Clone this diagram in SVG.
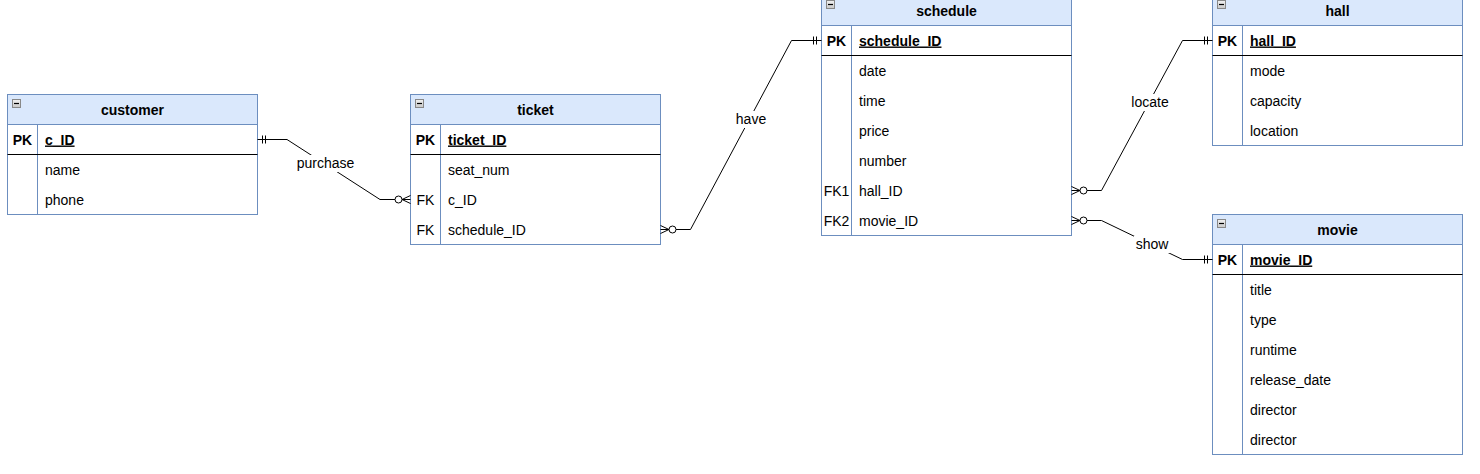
<svg xmlns="http://www.w3.org/2000/svg" width="1480" height="474" viewBox="0 0 1480 474">
<defs>
<linearGradient id="ig" x1="0" y1="0" x2="0" y2="1"><stop offset="0" stop-color="#f2f2f2"/><stop offset="1" stop-color="#c8c8c8"/></linearGradient>
</defs>
<style>
text{font-family:"Liberation Sans",Arial,Helvetica,sans-serif;font-size:14px;fill:#000}
.t{font-weight:bold;text-anchor:middle}
.k{text-anchor:middle}
.kb{text-anchor:middle;font-weight:bold}
.pk{font-weight:bold;text-decoration:underline}
.hd{fill:#dae8fc;stroke:#6c8ebf;stroke-width:1}
.bd{fill:#fff;stroke:#6c8ebf;stroke-width:1}
.cd{stroke:#6c8ebf;stroke-width:1}
.sp{stroke:#000;stroke-width:1}
.ic{fill:url(#ig);stroke:#888;stroke-width:1}
.im{stroke:#000;stroke-width:1.2}
.e{fill:none;stroke:#000;stroke-width:1}
.c{fill:#fff;stroke:#000;stroke-width:1}
.lb{fill:#fff}
.l{text-anchor:middle}
</style>
<rect width="1480" height="474" fill="#fff"/>
<g id="customer">
<rect class="bd" x="7.5" y="94.5" width="250" height="120"/>
<rect class="hd" x="7.5" y="94.5" width="250" height="30"/>
<rect class="ic" x="12.5" y="99.5" width="8" height="8"/><line class="im" x1="14" y1="103.5" x2="19" y2="103.5"/>
<line class="cd" x1="37.5" y1="124.5" x2="37.5" y2="214.5"/>
<line class="sp" x1="7.5" y1="154.5" x2="257.5" y2="154.5"/>
<text class="t" x="132.5" y="114.5">customer</text>
<text class="kb" x="22.5" y="144.5">PK</text><text class="pk" x="45" y="144.5">c_ID</text>
<text x="45" y="174.5">name</text>
<text x="45" y="204.5">phone</text>
</g>
<g id="ticket">
<rect class="bd" x="410.5" y="94.5" width="250" height="150"/>
<rect class="hd" x="410.5" y="94.5" width="250" height="30"/>
<rect class="ic" x="415.5" y="99.5" width="8" height="8"/><line class="im" x1="417" y1="103.5" x2="422" y2="103.5"/>
<line class="cd" x1="440.5" y1="124.5" x2="440.5" y2="244.5"/>
<line class="sp" x1="410.5" y1="154.5" x2="660.5" y2="154.5"/>
<text class="t" x="535.5" y="114.5">ticket</text>
<text class="kb" x="425.5" y="144.5">PK</text><text class="pk" x="448" y="144.5">ticket_ID</text>
<text x="448" y="174.5">seat_num</text>
<text class="k" x="425.5" y="204.5">FK</text><text x="448" y="204.5">c_ID</text>
<text class="k" x="425.5" y="234.5">FK</text><text x="448" y="234.5">schedule_ID</text>
</g>
<g id="schedule">
<rect class="bd" x="821.5" y="-4.5" width="250" height="240"/>
<rect class="hd" x="821.5" y="-4.5" width="250" height="30"/>
<rect class="ic" x="826.5" y="0.5" width="8" height="8"/><line class="im" x1="828" y1="4.5" x2="833" y2="4.5"/>
<line class="cd" x1="851.5" y1="25.5" x2="851.5" y2="235.5"/>
<line class="sp" x1="821.5" y1="55.5" x2="1071.5" y2="55.5"/>
<text class="t" x="946.5" y="15.5">schedule</text>
<text class="kb" x="836.5" y="45.5">PK</text><text class="pk" x="859" y="45.5">schedule_ID</text>
<text x="859" y="75.5">date</text>
<text x="859" y="105.5">time</text>
<text x="859" y="135.5">price</text>
<text x="859" y="165.5">number</text>
<text class="k" x="836.5" y="195.5">FK1</text><text x="859" y="195.5">hall_ID</text>
<text class="k" x="836.5" y="225.5">FK2</text><text x="859" y="225.5">movie_ID</text>
</g>
<g id="hall">
<rect class="bd" x="1212.5" y="-4.5" width="250" height="150"/>
<rect class="hd" x="1212.5" y="-4.5" width="250" height="30"/>
<rect class="ic" x="1217.5" y="0.5" width="8" height="8"/><line class="im" x1="1219" y1="4.5" x2="1224" y2="4.5"/>
<line class="cd" x1="1242.5" y1="25.5" x2="1242.5" y2="145.5"/>
<line class="sp" x1="1212.5" y1="55.5" x2="1462.5" y2="55.5"/>
<text class="t" x="1337.5" y="15.5">hall</text>
<text class="kb" x="1227.5" y="45.5">PK</text><text class="pk" x="1250" y="45.5">hall_ID</text>
<text x="1250" y="75.5">mode</text>
<text x="1250" y="105.5">capacity</text>
<text x="1250" y="135.5">location</text>
</g>
<g id="movie">
<rect class="bd" x="1212.5" y="214.5" width="250" height="240"/>
<rect class="hd" x="1212.5" y="214.5" width="250" height="30"/>
<rect class="ic" x="1217.5" y="219.5" width="8" height="8"/><line class="im" x1="1219" y1="223.5" x2="1224" y2="223.5"/>
<line class="cd" x1="1242.5" y1="244.5" x2="1242.5" y2="454.5"/>
<line class="sp" x1="1212.5" y1="274.5" x2="1462.5" y2="274.5"/>
<text class="t" x="1337.5" y="234.5">movie</text>
<text class="kb" x="1227.5" y="264.5">PK</text><text class="pk" x="1250" y="264.5">movie_ID</text>
<text x="1250" y="294.5">title</text>
<text x="1250" y="324.5">type</text>
<text x="1250" y="354.5">runtime</text>
<text x="1250" y="384.5">release_date</text>
<text x="1250" y="414.5">director</text>
<text x="1250" y="444.5">director</text>
</g>
<g id="connectors">
<g id="purchase">
<path class="e" d="M257.5 139.5 H287 L380 199.5 H410.5"/>
<path class="e" d="M262.5 135.5 V143.5 M265.5 135.5 V143.5"/>
<path class="e" d="M410.5 195.5 L402 199.5 L410.5 203.5"/>
<circle class="c" cx="398.5" cy="199.5" r="3.5"/>
<rect class="lb" x="296" y="155" width="59" height="17"/>
<text class="l" x="325.5" y="168">purchase</text>
</g>
<g id="have">
<path class="e" d="M660.5 229.5 H690.5 L791.5 40.5 H821.5"/>
<path class="e" d="M660.5 225.5 L669 229.5 L660.5 233.5"/>
<circle class="c" cx="672.5" cy="229.5" r="3.5"/>
<path class="e" d="M813.5 36.5 V44.5 M816.5 36.5 V44.5"/>
<rect class="lb" x="735" y="111" width="32" height="17"/>
<text class="l" x="751" y="124">have</text>
</g>
<g id="locate">
<path class="e" d="M1071.5 190.5 H1101.5 L1182.5 40.5 H1212.5"/>
<path class="e" d="M1071.5 186.5 L1080 190.5 L1071.5 194.5"/>
<circle class="c" cx="1083.5" cy="190.5" r="3.5"/>
<path class="e" d="M1204.5 36.5 V44.5 M1207.5 36.5 V44.5"/>
<rect class="lb" x="1130" y="94" width="40" height="17"/>
<text class="l" x="1150" y="107">locate</text>
</g>
<g id="show">
<path class="e" d="M1071.5 220.5 H1101.5 L1182.5 259.5 H1212.5"/>
<path class="e" d="M1071.5 216.5 L1080 220.5 L1071.5 224.5"/>
<circle class="c" cx="1083.5" cy="220.5" r="3.5"/>
<path class="e" d="M1204.5 255.5 V263.5 M1207.5 255.5 V263.5"/>
<rect class="lb" x="1134" y="236" width="36" height="17"/>
<text class="l" x="1152" y="249">show</text>
</g>
</g>
</svg>
